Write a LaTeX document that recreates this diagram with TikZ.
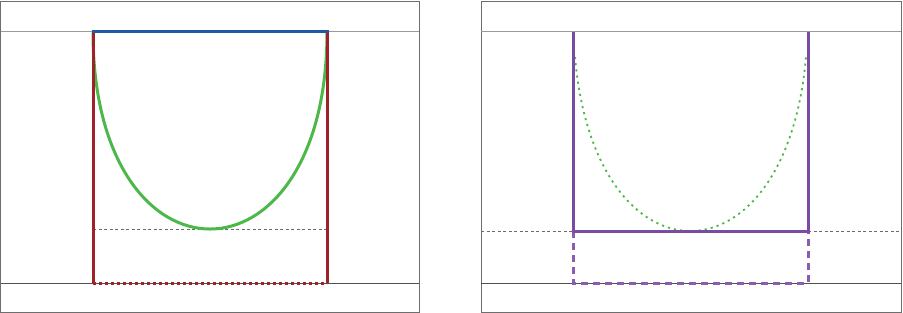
\documentclass[tikz,border=0pt]{standalone}
\definecolor{framegray}{HTML}{6E6E6E}
\definecolor{topgray}{HTML}{9A9A9A}
\definecolor{botgray}{HTML}{505050}
\definecolor{dashgray}{HTML}{6A6A6A}
\definecolor{wallred}{HTML}{A02228}
\definecolor{lidblue}{HTML}{1F58A3}
\definecolor{curvegreen}{HTML}{4DB84A}
\definecolor{boxpurple}{HTML}{7B4AA2}
\definecolor{lightpurple}{HTML}{8A5DB0}
\tikzset{
  panel/.style={draw=framegray, line width=1pt},
  topline/.style={draw=topgray, line width=1pt},
  botline/.style={draw=botgray, line width=1pt},
  levelline/.style={draw=dashgray, line width=0.8pt, dash pattern=on 3pt off 2.5pt},
  wall/.style={draw=wallred, line width=3pt},
  lid/.style={draw=lidblue, line width=3pt},
  bowl/.style={draw=curvegreen, line width=3pt},
  bowldot/.style={draw=curvegreen, line width=1.8pt, dash pattern=on 2.2pt off 4pt},
  floordot/.style={draw=wallred, line width=3pt, dash pattern=on 3pt off 3pt},
  pbox/.style={draw=boxpurple, line width=3pt},
  pdash/.style={draw=lightpurple, line width=3pt, dash pattern=on 7pt off 5pt},
}
\begin{document}
\begin{tikzpicture}[x=1pt,y=-1pt]
\useasboundingbox (0,0) rectangle (903,313);
% ---------- left panel ----------
\coordinate (LA) at (0.5,2);
\coordinate (LB) at (419,312);
\draw[panel] (LA) rectangle (LB);
\coordinate (LT0) at (0.5,32);
\coordinate (LT1) at (419,32);
\coordinate (LB0) at (0.5,283);
\coordinate (LB1) at (419,283);
\draw[topline] (LT0) -- (LT1);
\draw[botline] (LB0) -- (LB1);
\coordinate (Ltl) at (93,32);
\coordinate (Ltr) at (327,32);
\coordinate (Lbl) at (93,283);
\coordinate (Lbr) at (327,283);
\coordinate (Lml) at (93,229);
\coordinate (Lmr) at (327,229);
\draw[levelline] (Lml) -- (Lmr);
\draw[floordot] (Lbl) -- (Lbr);
\draw[bowl] (Ltl) .. controls (93,294.7) and (327,294.7) .. (Ltr);
\draw[wall] (Ltl) -- (Lbl);
\draw[wall] (Ltr) -- (Lbr);
\draw[lid] ([xshift=-1.5pt]Ltl) -- ([xshift=1.5pt]Ltr);
% ---------- right panel ----------
\coordinate (RA) at (481,2);
\coordinate (RB) at (901,312);
\draw[panel] (RA) rectangle (RB);
\coordinate (RT0) at (481,32);
\coordinate (RT1) at (901,32);
\coordinate (RB0) at (481,283);
\coordinate (RB1) at (901,283);
\draw[topline] (RT0) -- (RT1);
\draw[botline] (RB0) -- (RB1);
\coordinate (Rtl) at (573,32);
\coordinate (Rtr) at (808,32);
\coordinate (Rml) at (573,231);
\coordinate (Rmr) at (808,231);
\coordinate (Rbl) at (573,283);
\coordinate (Rbr) at (808,283);
\coordinate (RL0) at (481,231);
\coordinate (RR1) at (901,231);
\draw[levelline] (RL0) -- (Rml);
\draw[levelline] (Rmr) -- (RR1);
\draw[pdash] (Rml) -- (Rbl) -- (Rbr) -- (Rmr);
\draw[bowldot] (575,57) .. controls (595,289) and (786,289) .. (806,57);
\draw[pbox, line join=miter] (Rtl) -- (Rml) -- (Rmr) -- (Rtr);
\end{tikzpicture}
\end{document}
